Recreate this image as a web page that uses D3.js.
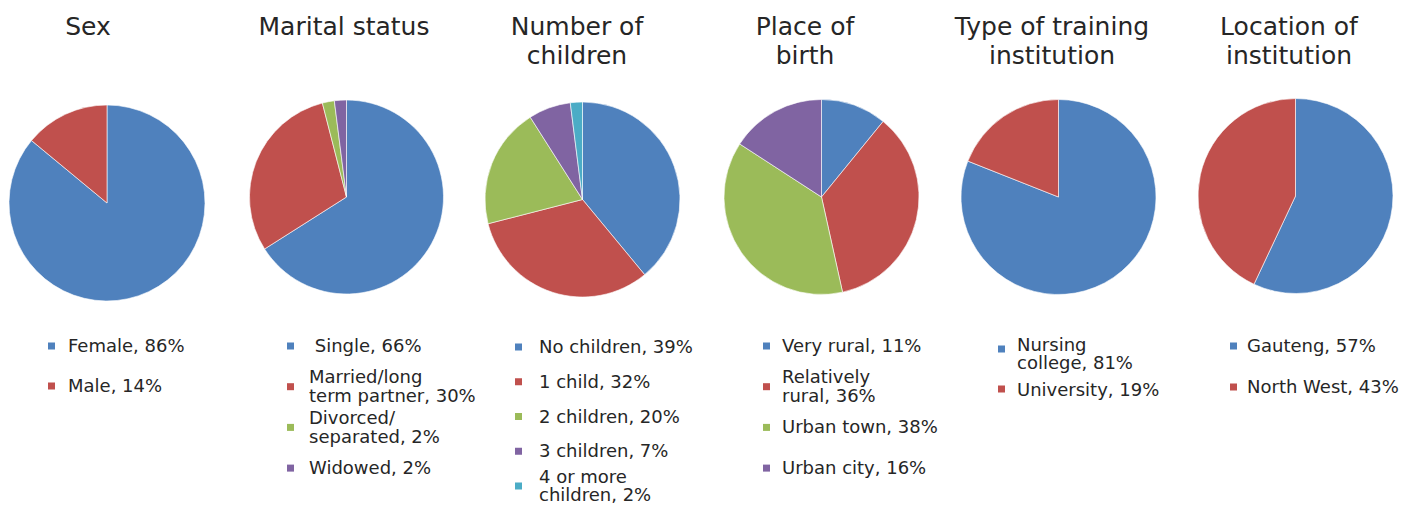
<!DOCTYPE html>
<html>
<head>
<meta charset="utf-8">
<script src="https://cdn.jsdelivr.net/npm/d3@7"></script>
<style>
    body { margin: 0; background: #fff; }
    text { font-family: "DejaVu Sans", sans-serif; fill: #262626; white-space: pre; }
</style>
</head>
<body>
<svg id="viewBox" width="1417" height="508"></svg>
<script>
'use strict'

const colors = ['#4F81BD', '#C0504D', '#9BBB59', '#8064A2', '#4BACC6']

const sexCats = ['Female', 'Male']
const sexVals = [86, 14]

const maritalCats = [' Single', 'Married/long\nterm partner', 'Divorced/\nseparated', 'Widowed']
const maritalVals = [66, 30, 2, 2]

const childrenCats = ['No children', '1 child', '2 children', '3 children', '4 or more\nchildren']
const childrenVals = [39, 32, 20, 7, 2]

const birthCats = ['Very rural', 'Relatively\nrural', 'Urban town', 'Urban city']
const birthVals = [11, 36, 38, 16]

const trainingCats = ['Nursing\ncollege', 'University']
const trainingVals = [81, 19]

const locationCats = ['Gauteng', 'North West']
const locationVals = [57, 43]

const titles = [
    ['Sex'],
    ['Marital status'],
    ['Number of', 'children'],
    ['Place of', 'birth'],
    ['Type of training', 'institution'],
    ['Location of', 'institution']
]

const charts = [
    { cats: sexCats, vals: sexVals },
    { cats: maritalCats, vals: maritalVals },
    { cats: childrenCats, vals: childrenVals },
    { cats: birthCats, vals: birthVals },
    { cats: trainingCats, vals: trainingVals },
    { cats: locationCats, vals: locationVals }
]

// layout of each panel (pie centre, title centre, legend columns and rows)
const layout = [
    { cx: 107, cy: 203, r: 98, tx: 88, mx: 48, lx: 68, ly: 346, pitch: 40 },
    { cx: 346.5, cy: 197, r: 97, tx: 344, mx: 287, lx: 309, ly: 346, pitch: 40.7 },
    { cx: 582.5, cy: 199.5, r: 97.5, tx: 577, mx: 515, lx: 539, ly: 347, pitch: 34.75 },
    { cx: 821.5, cy: 197, r: 97.5, tx: 805, mx: 763, lx: 782, ly: 346, pitch: 40.7 },
    { cx: 1058.5, cy: 197, r: 97.5, tx: 1052, mx: 998, lx: 1017, ly: 354, pitch: 36, markerDy: [-5, -1] },
    { cx: 1295.5, cy: 196, r: 97.5, tx: 1289, mx: 1230, lx: 1247, ly: 346, pitch: 41 }
]

const svg = d3.select('#viewBox')
const pie = d3.pie().sort(null)
const lineH = 18.5

charts.forEach((c, k) => {
    const L = layout[k]
    const g = svg.append('g')

    // title, one text per line
    g.append('g')
        .selectAll('text')
        .data(titles[k])
        .join('text')
        .attr('text-anchor', 'middle')
        .attr('font-size', 25)
        .attr('x', L.tx)
        .attr('y', (d, i) => 35 + i * 28.5)
        .text(d => d)

    // pie
    const arc = d3.arc().innerRadius(0).outerRadius(L.r)
    g.append('g')
        .attr('transform', `translate(${L.cx},${L.cy})`)
        .selectAll('path')
        .data(pie(c.vals))
        .join('path')
        .attr('d', arc)
        .attr('fill', (d, i) => colors[i])
        .attr('stroke', '#fff')
        .attr('stroke-width', 0.6)

    // legend
    const rows = g.append('g')
        .selectAll('g')
        .data(c.cats.map((cat, i) => ({ lines: `${cat}, ${c.vals[i]}%`.split('\n'), i })))
        .join('g')

    rows.append('rect')
        .attr('x', L.mx)
        .attr('y', d => L.ly + d.i * L.pitch - 3.5 + (L.markerDy ? L.markerDy[d.i] : 0))
        .attr('width', 7)
        .attr('height', 7)
        .attr('fill', d => colors[d.i])

    rows.append('text')
        .attr('font-size', 18)
        .selectAll('tspan')
        .data(d => d.lines.map((t, j) => ({ t, j, n: d.lines.length, i: d.i })))
        .join('tspan')
        .attr('x', L.lx)
        .attr('y', d => L.ly + d.i * L.pitch + 6 + (d.j - (d.n - 1) / 2) * lineH)
        .text(d => d.t)
})
</script>
</body>
</html>
